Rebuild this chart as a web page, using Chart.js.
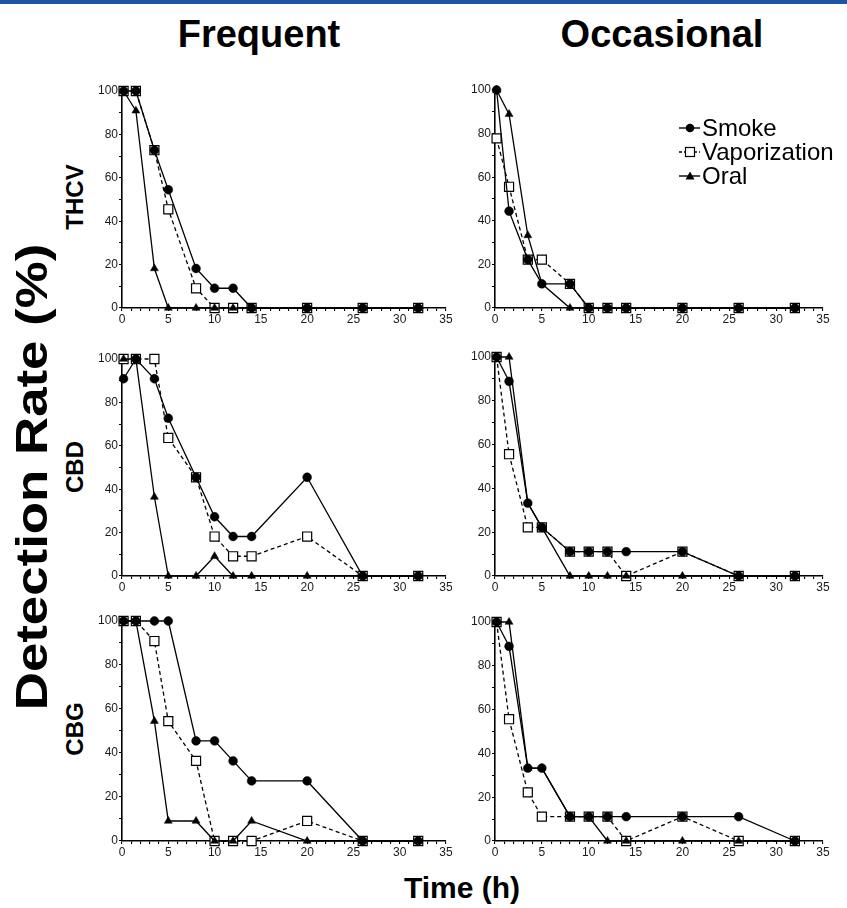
<!DOCTYPE html>
<html><head><meta charset="utf-8">
<script src="https://cdn.jsdelivr.net/npm/chart.js@4.4.0/dist/chart.umd.min.js"></script>
<style>
body{margin:0;width:847px;height:908px;background:#fff;position:relative;overflow:hidden;font-family:"Liberation Sans",Arial,Helvetica,sans-serif;}
.bar{position:absolute;left:0;top:0;width:847px;height:4px;background:#1b56a4;}
.t{position:absolute;font-weight:bold;color:#000;white-space:nowrap;line-height:1;transform:translate(-50%,-50%);}
.r{transform:translate(-50%,-50%) rotate(-90deg);}
.big{transform:translate(-50%,-50%) rotate(-90deg) scaleX(1.2);}
canvas{position:absolute;}
.lg{position:absolute;font-size:24px;line-height:24px;color:#000;white-space:nowrap;}
.lg svg{position:absolute;left:0;top:5px;}
.lg span{position:absolute;left:24px;top:0;}
</style></head><body>
<div class="bar"></div>
<div class="t" style="left:259px;top:34px;font-size:38px;">Frequent</div>
<div class="t" style="left:662px;top:34px;font-size:38px;">Occasional</div>
<div class="t big" style="left:32px;top:477px;font-size:44px;">Detection Rate (%)</div>
<div class="t r" style="left:75px;top:197px;font-size:24px;">THCV</div>
<div class="t r" style="left:75px;top:467px;font-size:24px;">CBD</div>
<div class="t r" style="left:75px;top:729px;font-size:24px;">CBG</div>
<div class="t" style="left:462px;top:888px;font-size:30px;">Time (h)</div>

<canvas id="c1"></canvas><canvas id="c2"></canvas>
<canvas id="c3"></canvas><canvas id="c4"></canvas>
<canvas id="c5"></canvas><canvas id="c6"></canvas>

<div class="lg" style="left:678px;top:116px;"><svg width="24" height="14"><line x1="1" y1="7" x2="22" y2="7" stroke="#000" stroke-width="1.4"/><circle cx="12" cy="7" r="4.3" fill="#000"/></svg><span>Smoke</span></div>
<div class="lg" style="left:678px;top:140px;"><svg width="24" height="14"><line x1="1" y1="7" x2="22" y2="7" stroke="#000" stroke-width="1.3" stroke-dasharray="3,2"/><rect x="7.5" y="2.5" width="9" height="9" fill="#fff" stroke="#000" stroke-width="1.2"/></svg><span>Vaporization</span></div>
<div class="lg" style="left:678px;top:164px;"><svg width="24" height="14"><line x1="1" y1="7" x2="22" y2="7" stroke="#000" stroke-width="1.4"/><polygon points="12,2.5 16.5,10.5 7.5,10.5" fill="#000"/></svg><span>Oral</span></div>

<script>
// ---- data ----
const times = [0.17, 1.5, 3.5, 5, 8, 10, 12, 14, 20, 26, 32];
const seriesNames = ['Smoke', 'Vaporization', 'Oral'];
const xTickLabels = [0, 5, 10, 15, 20, 25, 30, 35];
const yTickLabels = [0, 20, 40, 60, 80, 100];

const freqTHCVSmoke = [100, 100, 72.7, 54.5, 18.2, 9.1, 9.1, 0, 0, 0, 0];
const freqTHCVVapor = [100, 100, 72.7, 45.5, 9.1, 0, 0, 0, 0, 0, 0];
const freqTHCVOral  = [100, 90.9, 18.2, 0, 0, 0, 0, 0, 0, 0, 0];

const occTHCVSmoke = [100, 44.4, 22.2, 11.1, 11.1, 0, 0, 0, 0, 0, 0];
const occTHCVVapor = [77.8, 55.6, 22.2, 22.2, 11.1, 0, 0, 0, 0, 0, 0];
const occTHCVOral  = [100, 88.9, 33.3, 11.1, 0, 0, 0, 0, 0, 0, 0];

const freqCBDSmoke = [90.9, 100, 90.9, 72.7, 45.5, 27.3, 18.2, 18.2, 45.5, 0, 0];
const freqCBDVapor = [100, 100, 100, 63.6, 45.5, 18.2, 9.1, 9.1, 18.2, 0, 0];
const freqCBDOral  = [100, 100, 36.4, 0, 0, 9.1, 0, 0, 0, 0, 0];

const occCBDSmoke = [100, 88.9, 33.3, 22.2, 11.1, 11.1, 11.1, 11.1, 11.1, 0, 0];
const occCBDVapor = [100, 55.6, 22.2, 22.2, 11.1, 11.1, 11.1, 0, 11.1, 0, 0];
const occCBDOral  = [100, 100, 33.3, 22.2, 0, 0, 0, 0, 0, 0, 0];

const freqCBGSmoke = [100, 100, 100, 100, 45.5, 45.5, 36.4, 27.3, 27.3, 0, 0];
const freqCBGVapor = [100, 100, 90.9, 54.5, 36.4, 0, 0, 0, 9.1, 0, 0];
const freqCBGOral  = [100, 100, 54.5, 9.1, 9.1, 0, 0, 9.1, 0, 0, 0];

const occCBGSmoke = [100, 88.9, 33.3, 33.3, 11.1, 11.1, 11.1, 11.1, 11.1, 11.1, 0];
const occCBGVapor = [100, 55.6, 22.2, 11.1, 11.1, 11.1, 11.1, 0, 11.1, 0, 0];
const occCBGOral  = [100, 100, 33.3, 33.3, 11.1, 11.1, 0, 0, 0, 0, 0];

// ---- layout ----
const FONT = '"Liberation Sans", Arial, Helvetica, sans-serif';
const panels = [
  {id:'c1', x:122, y:91,  w:324, h:217, d:[freqTHCVSmoke, freqTHCVVapor, freqTHCVOral]},
  {id:'c2', x:495, y:90,  w:328, h:218, d:[occTHCVSmoke, occTHCVVapor, occTHCVOral]},
  {id:'c3', x:122, y:359, w:324, h:217, d:[freqCBDSmoke, freqCBDVapor, freqCBDOral]},
  {id:'c4', x:495, y:357, w:328, h:219, d:[occCBDSmoke, occCBDVapor, occCBDOral]},
  {id:'c5', x:122, y:621, w:324, h:220, d:[freqCBGSmoke, freqCBGVapor, freqCBGOral]},
  {id:'c6', x:495, y:622, w:328, h:219, d:[occCBGSmoke, occCBGVapor, occCBGOral]},
];

const toXY = arr => arr.map((v, i) => ({x: times[i], y: v}));

function makeChart(p) {
  const padL = 40, padT = 10, padR = 14, padB = 26;
  const cv = document.getElementById(p.id);
  const w = p.w + padL + padR, h = p.h + padT + padB;
  cv.style.left = (p.x - padL) + 'px';
  cv.style.top = (p.y - padT) + 'px';
  cv.width = w; cv.height = h;
  cv.style.width = w + 'px'; cv.style.height = h + 'px';
  const common = {showLine:true, borderColor:'#000', borderWidth:1.3, clip:false, tension:0, pointBorderColor:'#000'};
  new Chart(cv, {
    type: 'scatter',
    data: {datasets: [
      Object.assign({}, common, {label:seriesNames[2], data:toXY(p.d[2]), backgroundColor:'#000',
        pointStyle:'triangle', pointRadius:4.6, pointBorderWidth:0.5, order:1}),
      Object.assign({}, common, {label:seriesNames[0], data:toXY(p.d[0]), backgroundColor:'#000',
        pointStyle:'circle', pointRadius:4.4, pointBorderWidth:0.5, order:2}),
      Object.assign({}, common, {label:seriesNames[1], data:toXY(p.d[1]), backgroundColor:'#fff',
        borderDash:[4,3], pointStyle:'rect', pointRadius:6.4, pointBorderWidth:1.2, order:3}),
    ]},
    options: {
      responsive:false, animation:false, devicePixelRatio:1,
      layout:{padding:{top:padT, right:padR, left:0, bottom:0}},
      plugins:{legend:{display:false}, tooltip:{enabled:false}},
      elements:{line:{borderJoinStyle:'miter'}},
      scales: {
        x: {
          type:'linear', min:0, max:35,
          afterFit(s){ s.height = padB; },
          afterBuildTicks(s){ const t=[]; for(let v=0; v<=35; v++) t.push({value:v}); s.ticks=t; },
          ticks:{autoSkip:false, maxRotation:0, minRotation:0, padding:1, color:'#1a1a1a',
            font:{size:12, family:FONT},
            callback:v => xTickLabels.includes(v) ? String(v) : ''},
          grid:{drawOnChartArea:false, drawTicks:true, tickLength:3, color:'#000', lineWidth:1.1},
          border:{display:true, color:'#000', width:1.6}
        },
        y: {
          type:'linear', min:0, max:100,
          afterFit(s){ s.width = padL; },
          afterBuildTicks(s){ const t=[]; for(let v=0; v<=100; v+=10) t.push({value:v}); s.ticks=t; },
          ticks:{autoSkip:false, padding:1, color:'#1a1a1a',
            font:{size:12, family:FONT},
            callback:v => yTickLabels.includes(v) ? String(v) : ''},
          grid:{drawOnChartArea:false, drawTicks:true, tickLength:3, color:'#000', lineWidth:1.1},
          border:{display:true, color:'#000', width:1.6}
        }
      }
    }
  });
}
panels.forEach(makeChart);
</script>
</body></html>
